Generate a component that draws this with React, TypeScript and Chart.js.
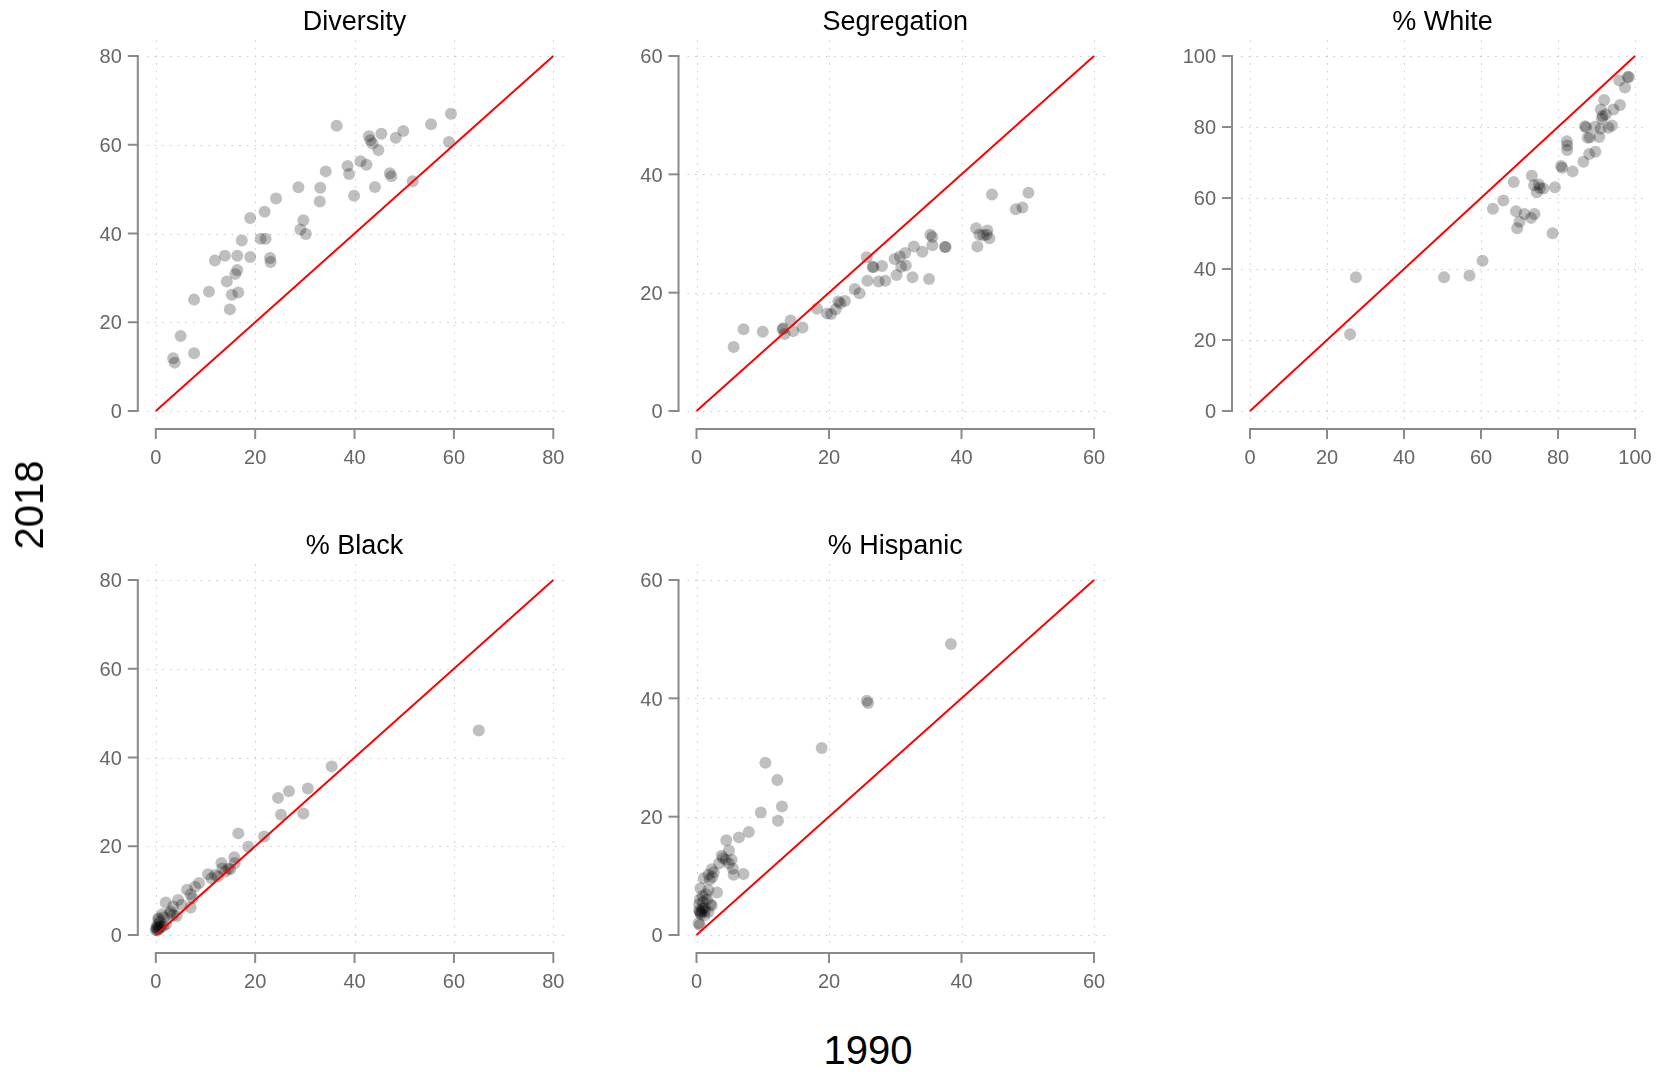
import React, { useEffect, useRef } from "react";
import { Chart, registerables } from "chart.js";

Chart.register(...registerables);

// ---------- data ----------
const panelTitles = ["Diversity", "Segregation", "% White", "% Black", "% Hispanic"];
const panelMax = [80, 60, 100, 80, 60];
const ticks80 = [0, 20, 40, 60, 80];
const ticks60 = [0, 20, 40, 60];
const ticks100 = [0, 20, 40, 60, 80, 100];
const panelTicks = [ticks80, ticks60, ticks100, ticks80, ticks60];
const xAxisTitle = "1990";
const yAxisTitle = "2018";

const diversity1990 = [3.5, 3.8, 5.0, 7.7, 7.7, 10.7, 11.9, 13.9, 14.3, 14.9, 15.3, 16.6, 16.0, 16.4, 16.4, 17.3, 19.0, 19.0, 21.1, 22.1, 21.9, 23.0, 23.1, 24.2, 28.7, 29.1, 29.7, 30.2, 33.0, 33.1, 34.2, 36.4, 38.6, 38.9, 39.9, 41.2, 42.4, 42.9, 43.2, 43.6, 44.1, 44.8, 45.4, 47.1, 47.4, 48.3, 49.8, 51.7, 55.4, 59.0, 59.4];
const diversity2018 = [11.9, 10.9, 16.9, 13.0, 25.1, 26.9, 33.9, 35.0, 29.2, 22.9, 26.2, 26.7, 30.9, 31.8, 35.0, 38.4, 34.7, 43.5, 38.8, 38.8, 44.9, 34.5, 33.6, 47.9, 50.4, 40.9, 43.0, 39.9, 47.2, 50.3, 54.0, 64.3, 55.2, 53.4, 48.5, 56.3, 55.5, 61.9, 61.0, 60.3, 50.5, 58.8, 62.5, 53.6, 52.9, 61.6, 63.1, 51.8, 64.6, 60.6, 67.0];

const segregation1990 = [5.6, 7.1, 10.0, 13.0, 13.3, 13.1, 14.2, 14.6, 16.0, 18.2, 19.7, 20.3, 21.0, 21.4, 21.7, 22.4, 23.9, 24.6, 25.7, 25.8, 26.6, 26.7, 27.5, 28.0, 28.5, 29.9, 30.2, 30.7, 30.9, 31.5, 31.6, 32.6, 32.8, 34.1, 35.1, 35.3, 35.6, 35.6, 37.5, 37.6, 42.2, 42.4, 42.7, 43.3, 43.8, 43.9, 44.2, 44.6, 48.2, 49.2, 50.1];
const segregation2018 = [10.8, 13.8, 13.4, 13.8, 13.0, 14.0, 15.3, 13.5, 14.1, 17.3, 16.5, 16.4, 17.2, 18.5, 18.2, 18.6, 20.6, 19.9, 26.0, 22.0, 24.4, 24.3, 21.9, 24.5, 22.0, 25.7, 23.0, 26.1, 24.4, 26.7, 24.6, 22.6, 27.8, 26.9, 22.3, 29.8, 29.4, 28.0, 27.7, 27.7, 30.9, 27.8, 29.8, 29.7, 29.8, 30.5, 29.2, 36.6, 34.1, 34.4, 36.9];

const white1990 = [26.0, 27.5, 50.4, 57.0, 60.4, 63.1, 65.8, 68.5, 69.1, 69.4, 70.0, 71.3, 73.0, 73.2, 73.9, 73.8, 74.5, 75.0, 75.3, 76.2, 78.6, 79.2, 80.8, 81.1, 82.3, 82.4, 82.4, 83.8, 86.6, 87.0, 87.3, 87.7, 88.1, 88.3, 89.7, 89.6, 90.7, 91.1, 91.1, 91.4, 91.6, 92.0, 92.4, 93.1, 94.0, 94.4, 96.1, 95.9, 97.4, 98.1, 98.4];
const white2018 = [21.6, 37.7, 37.7, 38.2, 42.3, 57.0, 59.3, 64.5, 56.3, 51.5, 53.3, 55.5, 54.4, 66.3, 55.5, 63.6, 61.6, 63.8, 62.8, 62.7, 50.1, 63.0, 69.0, 68.5, 76.0, 74.8, 73.5, 67.5, 70.2, 80.2, 79.9, 77.0, 72.4, 77.1, 73.0, 80.1, 77.2, 79.5, 84.9, 82.4, 83.1, 87.6, 83.5, 79.8, 80.4, 84.9, 86.2, 93.1, 91.1, 94.1, 94.1];

const black1990 = [65.0, 35.4, 30.6, 26.8, 24.6, 25.2, 29.7, 21.8, 16.6, 18.6, 15.8, 15.9, 13.2, 13.4, 14.6, 14.0, 15.0, 10.5, 11.2, 12.5, 11.9, 8.7, 7.9, 6.3, 7.0, 7.4, 7.0, 4.5, 5.2, 2.0, 3.5, 2.8, 3.5, 4.2, 1.3, 3.0, 0.5, 0.8, 0.3, 0.6, 0.1, 1.1, 0.0, 0.3, 0.8, 2.1, 0.2, 0.5, 1.5, 0.6, 1.6];
const black2018 = [46.1, 38.0, 33.0, 32.4, 30.9, 27.1, 27.4, 22.2, 22.9, 19.9, 17.5, 16.2, 16.2, 15.0, 15.0, 14.3, 14.8, 13.7, 12.8, 13.2, 13.5, 11.7, 10.9, 10.2, 9.2, 8.3, 6.2, 7.9, 6.8, 7.3, 6.4, 4.9, 4.5, 4.3, 4.7, 5.3, 3.8, 3.0, 2.3, 1.9, 1.5, 2.0, 1.1, 1.0, 1.5, 2.5, 1.7, 1.3, 2.0, 3.5, 4.0];

const hispanic1990 = [38.4, 25.7, 25.9, 18.9, 10.4, 12.2, 12.9, 9.7, 12.3, 7.9, 6.4, 4.5, 4.9, 3.8, 4.4, 5.3, 4.9, 5.5, 5.6, 7.1, 3.4, 2.3, 2.6, 2.4, 1.1, 1.8, 0.6, 1.8, 3.1, 1.4, 0.5, 1.0, 2.1, 2.3, 0.4, 0.8, 1.3, 0.6, 1.8, 0.3, 0.5, 0.9, 0.7, 1.2, 0.4, 1.6, 2.0, 0.9, 1.2, 0.5, 4.0];
const hispanic2018 = [49.2, 39.6, 39.2, 31.6, 29.1, 26.2, 21.7, 20.7, 19.3, 17.4, 16.5, 16.0, 14.3, 13.4, 12.7, 12.7, 12.1, 11.2, 10.2, 10.3, 12.1, 11.1, 10.6, 9.8, 9.6, 10.2, 7.9, 7.6, 7.2, 6.9, 6.0, 5.6, 5.2, 5.0, 4.2, 4.0, 4.1, 3.7, 3.9, 2.0, 1.7, 4.5, 3.5, 4.6, 5.2, 6.0, 9.4, 6.6, 3.3, 3.9, 13.0];

const panelX = [diversity1990, segregation1990, white1990, black1990, hispanic1990];
const panelY = [diversity2018, segregation2018, white2018, black2018, hispanic2018];

// ---------- layout (page pixels) ----------
// canvas boxes [left, top, width, height]
const canvasBoxes = [
  [50, 0, 545, 500],
  [595, 0, 540, 500],
  [1135, 0, 532, 500],
  [50, 524, 545, 500],
  [595, 524, 540, 500],
];
// plotting area for the data range [x0, x1, yTop, yBottom]
const plotAreas = [
  [155.8, 553.3, 56, 411],
  [696.5, 1094, 56, 411],
  [1250, 1635, 56, 411],
  [155.8, 553.3, 580, 935],
  [696.5, 1094, 580, 935],
];

const FONT = '"Liberation Sans", Arial, Helvetica, sans-serif';

function Panel({ idx }: { idx: number }) {
  const ref = useRef<HTMLCanvasElement>(null);
  useEffect(() => {
    const canvas = ref.current!;
    const [cl, ct, cw, ch] = canvasBoxes[idx];
    const [x0, x1, yT, yB] = plotAreas[idx];
    const max = panelMax[idx];
    const ticks = panelTicks[idx];
    const title = panelTitles[idx];
    const xs = panelX[idx];
    const ys = panelY[idx];

    const rAxes = {
      id: "rAxes",
      beforeDatasetsDraw(chart: any) {
        const { ctx, chartArea: a, scales } = chart;
        const sx = scales.x;
        const sy = scales.y;
        ctx.save();
        ctx.strokeStyle = "#cccccc";
        ctx.lineWidth = 1;
        ctx.setLineDash([1.6, 6.1]);
        for (const t of ticks) {
          const px = Math.round(sx.getPixelForValue(t)) + 0.5;
          ctx.beginPath();
          ctx.moveTo(px, a.top - 16);
          ctx.lineTo(px, a.bottom + 8);
          ctx.stroke();
          const py = Math.round(sy.getPixelForValue(t)) + 0.5;
          ctx.beginPath();
          ctx.moveTo(a.left - 9, py);
          ctx.lineTo(a.right + 11, py);
          ctx.stroke();
        }
        ctx.restore();
      },
      afterDraw(chart: any) {
        const { ctx, chartArea: a, scales } = chart;
        const sx = scales.x;
        const sy = scales.y;
        ctx.save();
        ctx.setLineDash([]);
        ctx.strokeStyle = "#8a8a8a";
        ctx.lineWidth = 2;
        // y axis
        const ax = a.left - 18;
        ctx.beginPath();
        ctx.moveTo(ax, sy.getPixelForValue(ticks[0]));
        ctx.lineTo(ax, sy.getPixelForValue(ticks[ticks.length - 1]));
        ctx.stroke();
        // x axis
        const ay = a.bottom + 18;
        ctx.beginPath();
        ctx.moveTo(sx.getPixelForValue(ticks[0]), ay);
        ctx.lineTo(sx.getPixelForValue(ticks[ticks.length - 1]), ay);
        ctx.stroke();
        ctx.fillStyle = "#666666";
        ctx.font = `20px ${FONT}`;
        for (const t of ticks) {
          const py = sy.getPixelForValue(t);
          ctx.beginPath();
          ctx.moveTo(ax + 1, py);
          ctx.lineTo(ax - 10, py);
          ctx.stroke();
          ctx.textAlign = "right";
          ctx.textBaseline = "alphabetic";
          ctx.fillText(String(t), ax - 16, py + 7.2);
          const px = sx.getPixelForValue(t);
          ctx.beginPath();
          ctx.moveTo(px, ay - 1);
          ctx.lineTo(px, ay + 10);
          ctx.stroke();
          ctx.textAlign = "center";
          ctx.fillText(String(t), px, a.bottom + 53);
        }
        // title
        ctx.fillStyle = "#000000";
        ctx.font = `27px ${FONT}`;
        ctx.textAlign = "center";
        ctx.fillText(title, (a.left + a.right) / 2, a.top - 26.5);
        ctx.restore();
      },
    };

    const chart = new Chart(canvas, {
      type: "scatter",
      data: {
        datasets: [
          {
            type: "line",
            data: [
              { x: 0, y: 0 },
              { x: max, y: max },
            ],
            borderColor: "#ff0000",
            borderWidth: 2,
            pointRadius: 0,
            order: 0,
            clip: false,
          } as any,
          {
            type: "scatter",
            data: xs.map((x, i) => ({ x, y: ys[i] })),
            backgroundColor: "rgba(0,0,0,0.25)",
            borderWidth: 0,
            pointRadius: 6,
            pointHoverRadius: 6,
            order: 1,
            clip: false,
          } as any,
        ],
      },
      options: {
        responsive: false,
        maintainAspectRatio: false,
        animation: false,
        devicePixelRatio: 1,
        events: [],
        layout: {
          padding: {
            left: x0 - cl,
            right: cl + cw - x1,
            top: yT - ct,
            bottom: ct + ch - yB,
          },
        },
        scales: {
          x: { type: "linear", min: 0, max, display: false },
          y: { type: "linear", min: 0, max, display: false },
        },
        plugins: {
          legend: { display: false },
          tooltip: { enabled: false },
          title: { display: false },
        },
      } as any,
      plugins: [rAxes],
    });
    return () => chart.destroy();
  }, [idx]);

  const [cl, ct, cw, ch] = canvasBoxes[idx];
  return (
    <canvas
      ref={ref}
      width={cw}
      height={ch}
      style={{ position: "absolute", left: cl, top: ct, width: cw, height: ch }}
    />
  );
}

export default function App() {
  return (
    <div
      style={{
        position: "absolute",
        left: 0,
        top: 0,
        width: 1667,
        height: 1072,
        background: "#ffffff",
        overflow: "hidden",
        fontFamily: FONT,
      }}
    >
      {panelTitles.map((_, i) => (
        <Panel key={i} idx={i} />
      ))}
      <div
        style={{
          position: "absolute",
          left: 29,
          top: 505,
          transform: "translate(-50%, -50%) rotate(-90deg)",
          fontSize: 40,
          lineHeight: 1,
          whiteSpace: "nowrap",
          color: "#000",
        }}
      >
        {yAxisTitle}
      </div>
      <div
        style={{
          position: "absolute",
          left: 868,
          top: 1050,
          transform: "translate(-50%, -50%)",
          fontSize: 40,
          lineHeight: 1,
          whiteSpace: "nowrap",
          color: "#000",
        }}
      >
        {xAxisTitle}
      </div>
    </div>
  );
}
